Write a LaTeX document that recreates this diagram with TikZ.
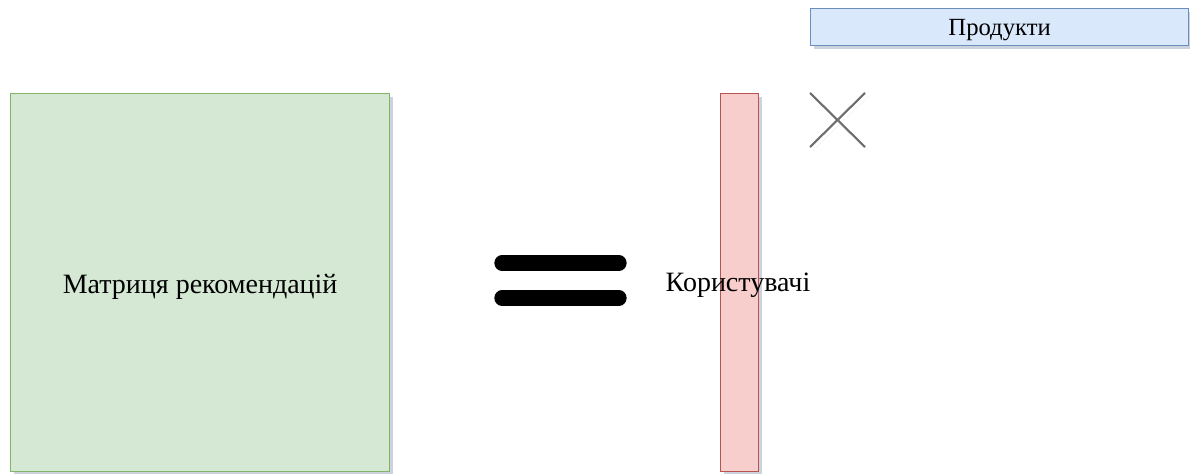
\documentclass[tikz,border=0pt]{standalone}
\usepackage{fontspec}
\setmainfont{Liberation Serif}
\usetikzlibrary{shadows}
\definecolor{gfill}{HTML}{D5E8D4}
\definecolor{gdraw}{HTML}{82B366}
\definecolor{rfill}{HTML}{F8CECC}
\definecolor{rdraw}{HTML}{B85450}
\definecolor{bfill}{HTML}{DAE8FC}
\definecolor{bdraw}{HTML}{6C8EBF}
\definecolor{xgray}{HTML}{6E6E6E}
\definecolor{shad}{HTML}{7080A0}
\tikzset{
  shd/.style={drop shadow={shadow xshift=2.5pt,shadow yshift=-2.5pt,fill=shad,opacity=0.35}},
  box/.style={draw,line width=0.9pt,shd,inner sep=0pt,minimum width=#1},
  lbl/.style={font=\fontsize{21}{25}\selectfont,inner sep=0pt},
  lblsm/.style={font=\fontsize{18.5}{22}\selectfont,inner sep=0pt},
}
\begin{document}
\begin{tikzpicture}[x=0.75pt,y=-0.75pt]
\useasboundingbox (0,0) rectangle (1190,474);
% matrix
\node[box=0pt,fill=gfill,draw=gdraw,minimum width=379*0.75pt,minimum height=378*0.75pt,anchor=north west] (mat) at (10,93) {};
\node[lbl] (matl) at ([yshift=-3pt]mat.center) {Матриця рекомендацій};
% equals sign
\coordinate (e1a) at (502,263);
\coordinate (e1b) at (619,263);
\coordinate (e2a) at (502,298);
\coordinate (e2b) at (619,298);
\draw[line width=11.5pt,line cap=round,black,shd] (e1a) -- (e1b);
\draw[line width=11.5pt,line cap=round,black,shd] (e2a) -- (e2b);
% users
\node[box=0pt,fill=rfill,draw=rdraw,minimum width=38*0.75pt,minimum height=378*0.75pt,anchor=north west] (usr) at (720,93) {};
\node[lbl] (usrl) at (738,285) {Користувачі};
% times
\coordinate (x1) at (810,93);
\coordinate (x2) at (865,147);
\coordinate (x3) at (810,147);
\coordinate (x4) at (865,93);
\draw[xgray,line width=1.6pt,shd] (x1) -- (x2) (x3) -- (x4);
% products
\node[box=0pt,fill=bfill,draw=bdraw,minimum width=378*0.75pt,minimum height=37*0.75pt,anchor=north west] (prd) at (810,8) {};
\node[lblsm] (prdl) at ([yshift=-2pt]prd.center) {Продукти};
\end{tikzpicture}
\end{document}
